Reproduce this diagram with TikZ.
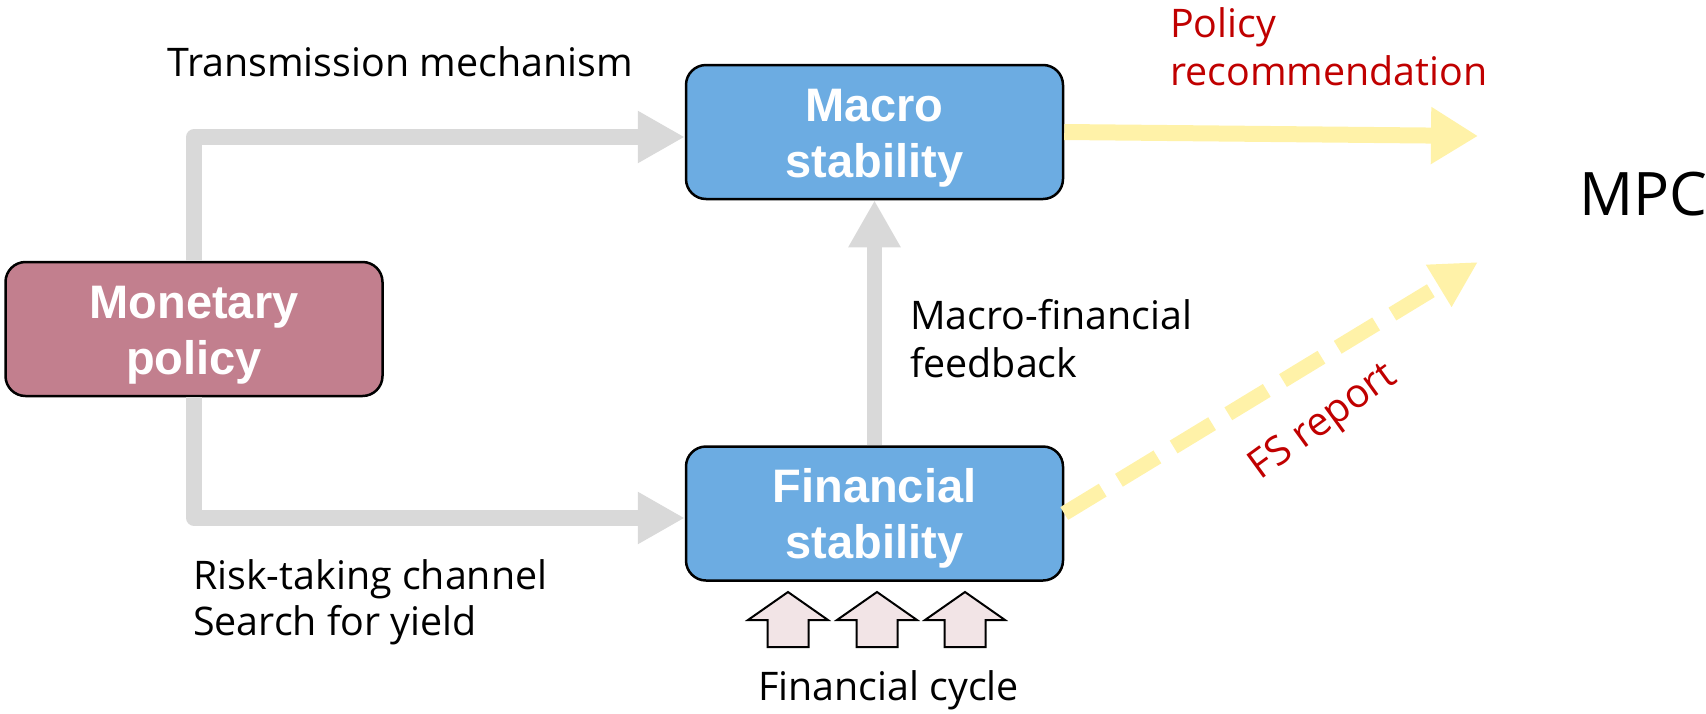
\documentclass[tikz,border=0pt]{standalone}
\usepackage{fontspec}
\setmainfont{Open Sans}
\newfontfamily\arialfont{Liberation Sans}
\usetikzlibrary{arrows.meta,positioning}
\definecolor{boxblue}{RGB}{108,172,226}
\definecolor{boxrose}{RGB}{194,127,142}
\definecolor{linkgray}{RGB}{217,217,217}
\definecolor{reportyellow}{RGB}{255,242,168}
\definecolor{darkred}{RGB}{192,0,0}
\definecolor{cyclepink}{RGB}{242,228,230}

\begin{document}
\begin{tikzpicture}[x=1pt,y=-1pt,
  block/.style={draw=black, line width=2.5pt, rounded corners=20pt,
    minimum width=377pt, minimum height=134pt, text=white, align=center,
    text height=90pt, text depth=0pt,
    font=\arialfont\bfseries\fontsize{47}{56}\selectfont},
  note/.style={anchor=base west, inner sep=0pt, align=left,
    font=\fontsize{39.4}{48}\selectfont},
  channel/.style={draw=linkgray, line width=15.5pt, line join=round,
    -{Triangle[length=47pt,width=49pt]}},
  toMPC/.style={draw=reportyellow, line width=16pt,
    -{Triangle[length=47pt,width=54pt]}}]
\useasboundingbox (0,0) rectangle (1706,713);

% boxes
\node[block, fill=boxrose] (mon) at (194,329) {Monetary\\policy};
\node[block, fill=boxblue] (macro) at (874.5,132) {Macro\\stability};
\node[block, fill=boxblue] (fin) at (874.5,513.5) {Financial\\stability};

% channels out of monetary policy
\draw[channel] (mon.north) |- ([yshift=-5pt]macro.west);
\draw[channel] (mon.south) |- ([yshift=-4.5pt]fin.west);
\draw[channel] (fin.north) -- (macro.south);

% to the MPC
\coordinate (recin) at (1478,136);
\coordinate (fsin) at (1478,262);
\draw[toMPC] (macro.east) -- (recin);
\draw[toMPC, line width=15pt, dash pattern=on 45pt off 19pt,
  -{Triangle[length=46pt,width=46pt]}] (fin.east) -- (fsin);

% financial cycle
\foreach \x in {788,877,965}
  \draw[fill=cyclepink, line width=2pt] (\x,592) -- ++(40,28) -- ++(-19.5,0)
    -- ++(0,27) -- ++(-41,0) -- ++(0,-27) -- ++(-19.5,0) -- cycle;

% labels (base = last line)
\node[note] (trans) at (167,76) {Transmission mechanism};
\node[note] (feedback) at (910,377) {Macro-financial\\feedback};
\node[note, font=\fontsize{39.4}{46}\selectfont] (risk) at (193,635)
  {Risk-taking channel\\Search for yield};
\node[note] (cycle) at (758,700) {Financial cycle};
\node[note, text=darkred] (rec) at (1170,85) {Policy\\recommendation};
\node[note, font=\fontsize{60}{70}\selectfont] (mpc) at (1579,215) {MPC};
\node[text=darkred, rotate=36, inner sep=0pt, font=\fontsize{40}{48}\selectfont]
  (fs) at (1324,423) {FS report};
\end{tikzpicture}
\end{document}
